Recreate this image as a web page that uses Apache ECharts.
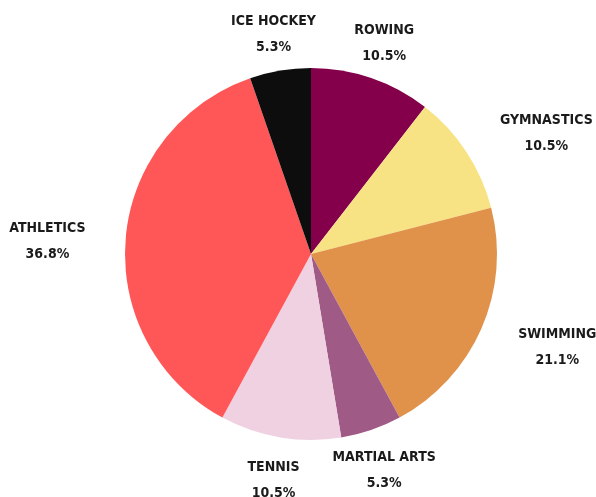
<!DOCTYPE html>
<html><head><meta charset="utf-8">
<script src="https://cdn.jsdelivr.net/npm/echarts@6/dist/echarts.min.js"></script>
<style>html,body{margin:0;padding:0;background:#fff}#c{width:596px;height:497px}</style>
</head><body><div id="c"></div>
<script>
const categories = ['ROWING','GYMNASTICS','SWIMMING','MARTIAL ARTS','TENNIS','ATHLETICS','ICE HOCKEY'];
const shares = [10.5, 10.5, 21.1, 5.3, 10.5, 36.8, 5.3];
const colors = ['#85004a','#f7e383','#e0914a','#a05a86','#efd1e1','#ff5757','#0d0d0d'];

const CX = 311, CY = 254, R = 186, LR = 226;
const FONT = '"Liberation Sans Narrow","DejaVu Sans Condensed",sans-serif';
const total = shares.reduce((a,b)=>a+b,0);
const mids = [];
let acc = 0;
shares.forEach(v => { mids.push((acc + v/2)/total*360); acc += v; });
// athletics label sits to the left rather than at its slice middle
const labelAngle = mids.map((m,i) => categories[i]==='ATHLETICS' ? 274 : m);

const chart = echarts.init(document.getElementById('c'));
chart.setOption({
  animation:false,
  series:[{
    type:'pie',
    center:[CX, CY],
    radius:R,
    startAngle:90,
    clockwise:true,
    data: categories.map((n,i)=>({name:n, value:shares[i], itemStyle:{color:colors[i]}})),
    label:{
      show:true,
      position:'outside',
      overflow:'none',
      formatter: p => '{n|' + p.name + '}\n{v|' + p.value.toFixed(1) + '%}',
      rich:{
        n:{fontFamily:FONT, fontWeight:'bold', fontSize:14, color:'#1a1a1a', lineHeight:26, align:'center'},
        v:{fontFamily:FONT, fontWeight:'bold', fontSize:14, color:'#1a1a1a', lineHeight:26, align:'center'}
      }
    },
    labelLine:{show:false},
    labelLayout: function(p){
      const a = labelAngle[p.dataIndex]*Math.PI/180;
      const s = Math.sin(a);
      let x = CX + LR*s;
      const y = CY - LR*Math.cos(a) + 3;
      const w = p.labelRect.width;
      if (Math.abs(s) >= 0.5) x += (s > 0 ? 1 : -1) * w/2;
      return {x:x, y:y, align:'center', verticalAlign:'middle'};
    },
    emphasis:{disabled:true}
  }]
});
</script></body></html>
